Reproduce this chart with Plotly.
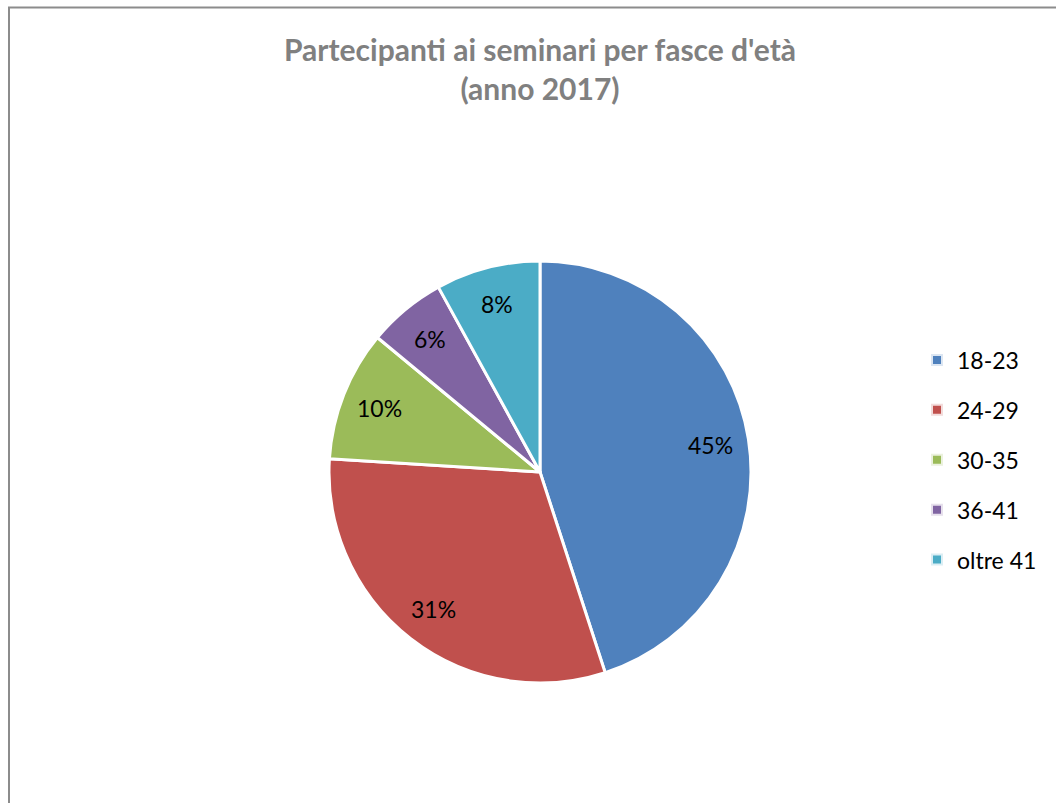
import numpy as np
import plotly.graph_objects as go

# Age bands and share of participants (2017)
fasce = ['18-23', '24-29', '30-35', '36-41', 'oltre 41']
percentuali = [45, 31, 10, 6, 8]
colori = ['#4F81BD', '#C0504D', '#9BBB59', '#8064A2', '#4BACC6']
aloni = ['#DCE6F2', '#F2DCDB', '#EBF1DE', '#E6E0EC', '#DBEEF4']

W, H = 1056, 803
CX, CY, R = 540, 472, 211  # pie centre / radius in px

fig = go.Figure()

fig.add_trace(go.Pie(
    labels=fasce,
    values=percentuali,
    sort=False,
    direction='clockwise',
    rotation=0,
    marker=dict(colors=colori, line=dict(color='white', width=3)),
    textinfo='none',
    domain=dict(x=[(CX - R) / W, (CX + R) / W], y=[1 - (CY + R) / H, 1 - (CY - R) / H]),
    showlegend=False,
    hoverinfo='label+percent',
))

# percentage labels placed at ~0.82 of the radius, like the Excel chart
vals = np.array(percentuali, dtype=float)
quote = vals / vals.sum()
fine = np.cumsum(quote)
mezzo = (fine - quote / 2) * 2 * np.pi
r_lab = 0.82 * R
for q, a in zip(quote, mezzo):
    fig.add_annotation(
        x=(CX + r_lab * np.sin(a)) / W,
        y=1 - (CY - r_lab * np.cos(a)) / H,
        xref='paper', yref='paper',
        xanchor='center', yanchor='middle',
        text=f'{q:.0%}', showarrow=False,
        font=dict(family='Lato', size=23, color='black'),
    )

# legend entries as square markers, one group each so the gap can be set
for nome, col, alo in zip(fasce, colori, aloni):
    fig.add_trace(go.Scatter(
        x=[None], y=[None], mode='markers', name=nome,
        legendgroup=nome,
        marker=dict(symbol='square', size=10, color=col,
                    line=dict(color=alo, width=2)),
    ))

fig.update_layout(
    width=W, height=H,
    margin=dict(l=0, r=0, t=0, b=0),
    paper_bgcolor='white',
    plot_bgcolor='white',
    title=dict(
        text="<b>Partecipanti ai seminari per fasce d'età<br>(anno 2017)</b>",
        x=540 / W, xanchor='center',
        y=1 - 61 / H, yanchor='top',
        font=dict(family='Lato', size=30, color='#808080'),
    ),
    legend=dict(
        x=917 / W, xanchor='left',
        y=1 - 460 / H, yanchor='middle',
        font=dict(family='Lato', size=23, color='black'),
        tracegroupgap=17,
        itemwidth=30,
        bgcolor='rgba(0,0,0,0)',
    ),
    xaxis=dict(visible=False),
    yaxis=dict(visible=False),
    shapes=[dict(
        type='rect', xref='paper', yref='paper',
        x0=9 / W, x1=1.02, y0=-0.02, y1=1 - 7.5 / H,
        line=dict(color='#8c8c8c', width=2),
        fillcolor='rgba(0,0,0,0)', layer='below',
    )],
)

fig.write_html('out.html', config={'displayModeBar': False},
               post_script="document.body.style.margin='0';")
